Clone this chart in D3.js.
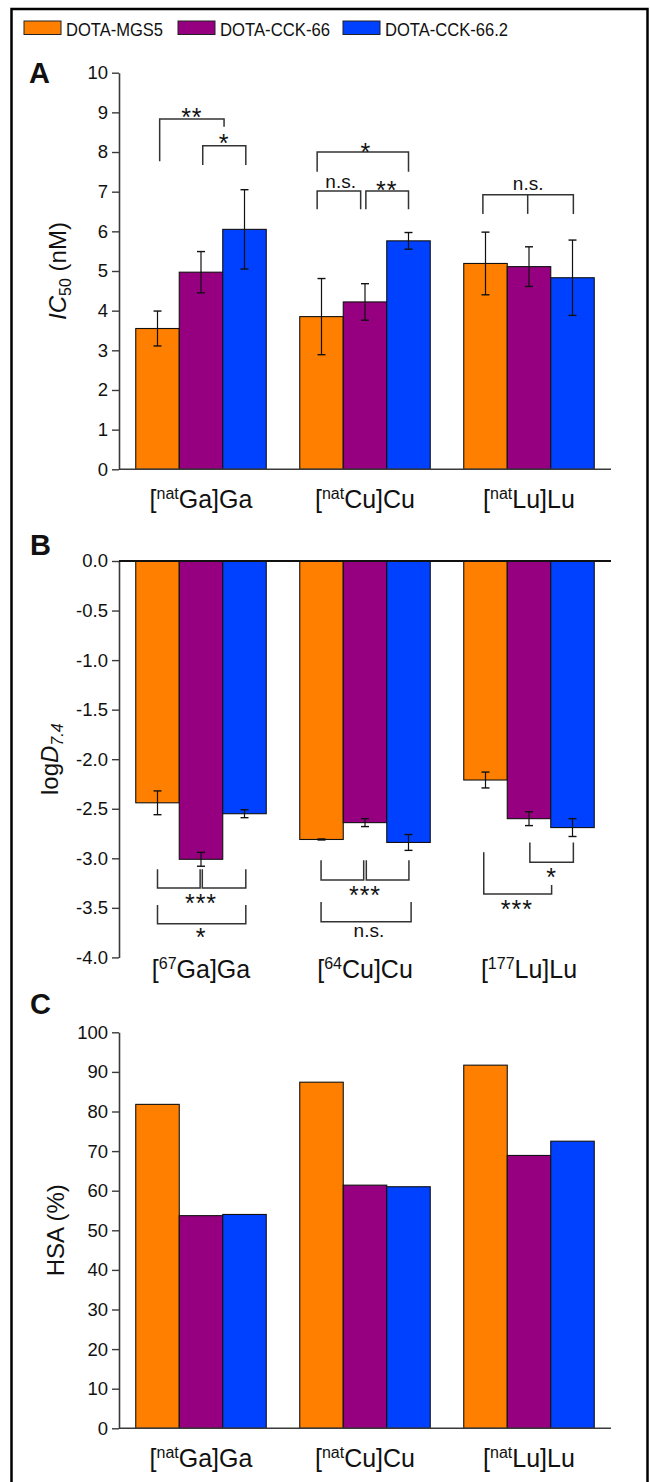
<!DOCTYPE html>
<html><head><meta charset="utf-8">
<script src="https://cdn.jsdelivr.net/npm/d3@7/dist/d3.min.js"></script>
<style>body{margin:0;background:#fff}svg{display:block;font-family:Arial,"Liberation Sans",sans-serif}</style>
</head><body><svg id="c" width="650" height="1482"></svg>
<script>
// ---------------- data ----------------
const series = ["DOTA-MGS5", "DOTA-CCK-66", "DOTA-CCK-66.2"];
const colors = ["#FF8000", "#960080", "#0040FF"];
const catsA = [{pre:"[", sup:"nat", post:"Ga]Ga"}, {pre:"[", sup:"nat", post:"Cu]Cu"}, {pre:"[", sup:"nat", post:"Lu]Lu"}];
const catsB = [{pre:"[", sup:"67", post:"Ga]Ga"}, {pre:"[", sup:"64", post:"Cu]Cu"}, {pre:"[", sup:"177", post:"Lu]Lu"}];
const catsC = catsA;
// IC50 (nM): rows = categories, cols = series
const ic50 = [[3.55, 4.97, 6.05], [3.85, 4.22, 5.76], [5.19, 5.11, 4.83]];
const ic50Err = [[0.44, 0.52, 1.00], [0.96, 0.46, 0.21], [0.79, 0.50, 0.95]];
const logD = [[-2.44, -3.01, -2.55], [-2.81, -2.64, -2.84], [-2.21, -2.60, -2.69]];
const logDErr = [[0.12, 0.07, 0.04], [0.005, 0.04, 0.08], [0.08, 0.07, 0.09]];
const hsa = [[81.8, 53.7, 54.0], [87.4, 61.4, 61.0], [91.7, 68.9, 72.5]];
const ticksA = [0,1,2,3,4,5,6,7,8,9,10];
const ticksB = [0,-0.5,-1,-1.5,-2,-2.5,-3,-3.5,-4];
const ticksC = [0,10,20,30,40,50,60,70,80,90,100];
// significance brackets: x in series slots (0..2), y in data units
const sigA = [
  {g:0, path:[[0.05,7.77],[0.05,8.83],[1.53,8.83],[1.53,8.64]], label:"**", lx:0.79, ly:9.02},
  {g:0, path:[[1.04,7.67],[1.04,8.16],[2.03,8.16],[2.03,7.67]], label:"*", lx:1.53, ly:8.35},
  {g:1, path:[[-0.1,7.5],[-0.1,8.0],[2.0,8.0],[2.0,7.5]], label:"*", lx:1.02, ly:8.13},
  {g:1, path:[[-0.1,6.56],[-0.1,7.02],[0.9,7.02],[0.9,6.56]], label:"n.s.", lx:0.44, ly:7.23},
  {g:1, path:[[1.02,6.56],[1.02,7.02],[2.0,7.02],[2.0,6.56]], label:"**", lx:1.5, ly:7.17},
  {g:2, path:[[-0.06,6.44],[-0.06,6.92],[2.02,6.92],[2.02,6.44]], label:"n.s.", lx:0.98, ly:7.17},
  {g:2, path:[[0.97,6.92],[0.97,6.44]], label:null}
];
const sigB = [
  {g:0, path:[[0,-3.11],[0,-3.30],[0.98,-3.30],[0.98,-3.11]], label:null},
  {g:0, path:[[1.03,-3.11],[1.03,-3.30],[2.03,-3.30],[2.03,-3.11]], label:"***", lx:1.0, ly:-3.40},
  {g:0, path:[[0,-3.47],[0,-3.66],[2.03,-3.66],[2.03,-3.47]], label:"*", lx:1.0, ly:-3.74},
  {g:1, path:[[-0.01,-3.02],[-0.01,-3.22],[0.97,-3.22],[0.97,-3.02]], label:null},
  {g:1, path:[[1.03,-3.02],[1.03,-3.22],[2.01,-3.22],[2.01,-3.02]], label:"***", lx:1.0, ly:-3.32},
  {g:1, path:[[-0.01,-3.44],[-0.01,-3.64],[2.06,-3.64],[2.06,-3.44]], label:"n.s.", lx:1.09, ly:-3.74},
  {g:2, path:[[1.02,-2.84],[1.02,-3.04],[2.02,-3.04],[2.02,-2.84]], label:"*", lx:1.52, ly:-3.135},
  {g:2, path:[[-0.04,-2.94],[-0.04,-3.36],[1.52,-3.36],[1.52,-3.27]], label:"***", lx:0.72, ly:-3.46}
];

// ---------------- layout ----------------
const svg = d3.select("#c");
const X0 = 119, X1 = 611;
const x = d3.scaleBand().domain([0,1,2]).range([X0, X1]).padding(0);
const barW = 43.5;
const xs = d3.scaleBand().domain([0,1,2]).range([-1.5*barW, 1.5*barW]).padding(0);
const slotX = (g, s) => x(g) + x.bandwidth()/2 + (s - 1) * barW;

const AXC = "#3a3a3a";
const TICKFS = 18.5, CATFS = 25, SUPFS = 16;

// frame
svg.append("rect").attr("x", 11.5).attr("y", 9).attr("width", 636).attr("height", 1480)
  .attr("fill", "none").attr("stroke", "#000").attr("stroke-width", 2.5);

// legend
const lg = svg.append("g");
const legX = [24, 178, 343];
const legW = [97, 110, 123];
series.forEach((s, i) => {
  lg.append("rect").attr("x", legX[i]).attr("y", 21).attr("width", 37).attr("height", 13.5)
    .attr("fill", colors[i]).attr("stroke", "#222").attr("stroke-width", 1);
  lg.append("text").attr("x", legX[i] + 42).attr("y", 35.5).attr("font-size", 18.5).attr("fill", "#111")
    .attr("textLength", legW[i]).attr("lengthAdjust", "spacingAndGlyphs").text(s);
});

function catLabel(g, c, xc, yb) {
  const t = g.append("text").attr("x", xc).attr("y", yb).attr("text-anchor", "middle")
    .attr("font-size", CATFS).attr("fill", "#111");
  t.append("tspan").text(c.pre);
  t.append("tspan").attr("font-size", SUPFS).attr("dy", -9).text(c.sup);
  t.append("tspan").attr("dy", 9).text(c.post);
}

function yAxis(y, ticks, fmt) {
  const ax = svg.append("g").attr("transform", `translate(${X0},0)`)
    .call(d3.axisLeft(y).tickValues(ticks).tickFormat(fmt).tickSize(7).tickSizeOuter(0).tickPadding(4));
  ax.select(".domain").attr("stroke", AXC).attr("stroke-width", 1.6);
  ax.selectAll(".tick line").attr("stroke", AXC).attr("stroke-width", 1.4);
  ax.selectAll(".tick text").attr("font-size", TICKFS).attr("fill", "#111").attr("font-family", "Arial, 'Liberation Sans', sans-serif");
  return ax;
}

function bars(g, data, y, base) {
  data.forEach((row, gi) => {
    g.selectAll(null).data(row).enter().append("rect")
      .attr("x", (d, si) => x(gi) + x.bandwidth()/2 + xs(si))
      .attr("width", xs.bandwidth())
      .attr("y", d => Math.min(y(d), y(base)))
      .attr("height", d => Math.abs(y(d) - y(base)))
      .attr("fill", (d, si) => colors[si])
      .attr("stroke", "#111").attr("stroke-width", 1.1);
  });
}

function errbars(g, data, err, y) {
  data.forEach((row, gi) => {
    row.forEach((v, si) => {
      const cx = slotX(gi, si), e = err[gi][si];
      const y1 = y(v + e), y2 = y(v - e);
      g.append("line").attr("x1", cx).attr("x2", cx).attr("y1", y1).attr("y2", y2).attr("stroke", "#111").attr("stroke-width", 1.2);
      [y1, y2].forEach(yy => g.append("line").attr("x1", cx - 4).attr("x2", cx + 4).attr("y1", yy).attr("y2", yy).attr("stroke", "#111").attr("stroke-width", 1.4));
    });
  });
}

function sigs(g, list, y) {
  const line = d3.line();
  list.forEach(b => {
    g.append("path").attr("d", line(b.path.map(p => [slotX(b.g, p[0]), y(p[1])])))
      .attr("fill", "none").attr("stroke", "#333").attr("stroke-width", 1.5);
    if (b.label) {
      const star = b.label.indexOf("*") >= 0;
      const fs = star ? 25 : 19;
      const cy = y(b.ly);
      g.append("text").attr("x", slotX(b.g, b.lx)).attr("y", star ? cy + 0.57 * fs : cy + 0.27 * fs)
        .attr("text-anchor", "middle").attr("font-size", fs).attr("fill", "#111")
        .attr("letter-spacing", star ? 1 : 0).text(b.label);
    }
  });
}

function panelLabel(t, px, py) {
  svg.append("text").attr("x", px).attr("y", py).attr("font-size", 29).attr("font-weight", "bold").attr("fill", "#111").text(t);
}

// ---------------- Panel A ----------------
{
  const y = d3.scaleLinear().domain([0, 10]).range([469.3, 72.7]);
  const g = svg.append("g");
  bars(g, ic50, y, 0);
  errbars(g, ic50, ic50Err, y);
  sigs(g, sigA, y);
  yAxis(y, ticksA, d => d);
  svg.append("line").attr("x1", X0).attr("x2", X1).attr("y1", y(0)).attr("y2", y(0)).attr("stroke", AXC).attr("stroke-width", 1.6);
  catsA.forEach((c, i) => catLabel(svg, c, x(i) + x.bandwidth()/2, y(0) + 39));
  const t = svg.append("text").attr("transform", `translate(66,${(y(0)+y(10))/2}) rotate(-90)`)
    .attr("text-anchor", "middle").attr("font-size", 24).attr("fill", "#111");
  t.append("tspan").attr("font-style", "italic").text("IC");
  t.append("tspan").attr("font-size", 16).attr("dy", 5).text("50");
  t.append("tspan").attr("dy", -5).text(" (nM)");
  panelLabel("A", 29, 83);
}

// ---------------- Panel B ----------------
{
  const y = d3.scaleLinear().domain([0, -4]).range([561, 957.4]);
  const g = svg.append("g");
  bars(g, logD, y, 0);
  errbars(g, logD, logDErr, y);
  sigs(g, sigB, y);
  yAxis(y, ticksB, d => d.toFixed(1));
  svg.append("line").attr("x1", X0).attr("x2", X1).attr("y1", y(0)).attr("y2", y(0)).attr("stroke", "#111").attr("stroke-width", 1.8);
  catsB.forEach((c, i) => catLabel(svg, c, x(i) + x.bandwidth()/2, 978));
  const t = svg.append("text").attr("transform", `translate(58,${(y(0)+y(-4))/2}) rotate(-90)`)
    .attr("text-anchor", "middle").attr("font-size", 24).attr("fill", "#111");
  t.append("tspan").text("log");
  t.append("tspan").attr("font-style", "italic").text("D");
  t.append("tspan").attr("font-style", "italic").attr("font-size", 16).attr("dy", 5).text("7.4");
  panelLabel("B", 30, 555);
}

// ---------------- Panel C ----------------
{
  const y = d3.scaleLinear().domain([0, 100]).range([1428.3, 1032.3]);
  const g = svg.append("g");
  bars(g, hsa, y, 0);
  yAxis(y, ticksC, d => d);
  svg.append("line").attr("x1", X0).attr("x2", X1).attr("y1", y(0)).attr("y2", y(0)).attr("stroke", AXC).attr("stroke-width", 1.6);
  catsC.forEach((c, i) => catLabel(svg, c, x(i) + x.bandwidth()/2, y(0) + 39));
  svg.append("text").attr("transform", `translate(64,${(y(0)+y(100))/2}) rotate(-90)`)
    .attr("text-anchor", "middle").attr("font-size", 24).attr("fill", "#111").text("HSA (%)");
  panelLabel("C", 30, 1014);
}
</script></body></html>
